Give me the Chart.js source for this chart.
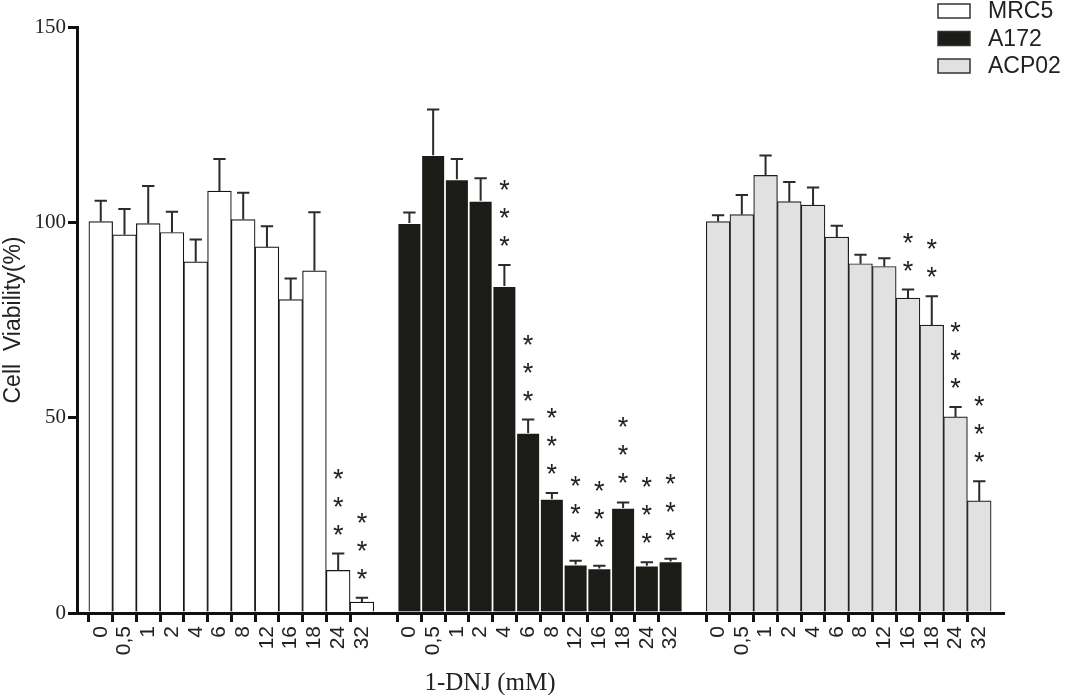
<!DOCTYPE html>
<html>
<head>
<meta charset="utf-8">
<script src="https://cdn.jsdelivr.net/npm/chart.js@4.4.1/dist/chart.umd.min.js"></script>
<style>
  html, body { margin: 0; padding: 0; background: #fff; }
  #wrap { width: 1065px; height: 695px; position: relative; }
</style>
</head>
<body>
<div id="wrap"><canvas id="viability"></canvas></div>
<script>
// concentrations of 1-DNJ (mM), same for each cell line
var doses = ['0', '0,5', '1', '2', '4', '6', '8', '12', '16', '18', '24', '32'];
var cellLines = ['MRC5', 'A172', 'ACP02'];

var mrc5 = [100.2, 96.8, 99.7, 97.4, 89.9, 108.0, 100.7, 93.7, 80.2, 87.6, 10.9, 2.8];
var mrc5Err = [5.3, 6.6, 9.6, 5.3, 5.7, 8.2, 6.9, 5.3, 5.4, 15.0, 4.3, 1.1];
var mrc5Stars = [0, 0, 0, 0, 0, 0, 0, 0, 0, 0, 3, 3];

var a172 = [99.8, 117.2, 111.0, 105.5, 83.7, 46.1, 29.2, 12.4, 11.4, 26.9, 12.1, 13.2];
var a172Err = [2.7, 11.7, 5.2, 5.8, 5.4, 3.4, 1.5, 1.0, 0.7, 1.4, 0.9, 0.7];
var a172Stars = [0, 0, 0, 0, 3, 3, 3, 3, 3, 3, 3, 3];

var acp02 = [100.2, 102.0, 112.0, 105.3, 104.4, 96.2, 89.4, 88.7, 80.6, 73.7, 50.2, 28.7];
var acp02Err = [1.6, 5.0, 5.1, 5.0, 4.5, 2.9, 2.3, 2.1, 2.2, 7.4, 2.5, 5.0];
var acp02Stars = [0, 0, 0, 0, 0, 0, 0, 0, 2, 2, 3, 3];

var yTicks = [0, 50, 100, 150];

// one empty slot before, between and after the three groups
var labels = [''].concat(doses, [''], doses, [''], doses, ['']);

function place(group, values) {
  var out = labels.map(function () { return null; });
  values.forEach(function (v, i) { out[1 + group * (doses.length + 1) + i] = v; });
  return out;
}

var errors = [place(0, mrc5Err), place(1, a172Err), place(2, acp02Err)];
var stars = [place(0, mrc5Stars), place(1, a172Stars), place(2, acp02Stars)];

var annotations = {
  id: 'annotations',
  afterDatasetsDraw: function (chart) {
    var c = chart.ctx;
    var y = chart.scales.y;
    chart.data.datasets.forEach(function (ds, d) {
      var meta = chart.getDatasetMeta(d);
      meta.data.forEach(function (bar, i) {
        var v = ds.data[i];
        if (v === null || v === undefined) return;
        var top = y.getPixelForValue(v + errors[d][i]);
        var cap = bar.width * 0.26;
        c.save();
        c.strokeStyle = '#2b2b2b';
        c.lineWidth = 2;
        c.beginPath();
        c.moveTo(bar.x, y.getPixelForValue(v));
        c.lineTo(bar.x, top);
        c.moveTo(bar.x - cap, top);
        c.lineTo(bar.x + cap, top);
        c.stroke();
        // significance asterisks
        c.fillStyle = '#222';
        c.font = '27px "Liberation Sans", Arial, sans-serif';
        c.textAlign = 'center';
        c.textBaseline = 'alphabetic';
        for (var k = 0; k < stars[d][i]; k++) {
          var cy = top - 25 - k * 28;
          c.fillText('*', bar.x, cy + 15);
        }
        c.restore();
      });
    });

    // x axis title
    var area = chart.chartArea;
    c.save();
    c.fillStyle = '#222';
    c.font = '25px "Liberation Serif", "Times New Roman", serif';
    c.textAlign = 'center';
    c.textBaseline = 'middle';
    c.fillText('1-DNJ (mM)', area.left + (area.right - area.left) * 0.446, 683);
    c.restore();

    // legend, top right
    c.save();
    chart.data.datasets.forEach(function (ds, d) {
      var by = 4 + d * 27.5;
      c.fillStyle = ds.backgroundColor;
      c.fillRect(938, by, 32, 14);
      c.strokeStyle = '#333';
      c.lineWidth = 1.5;
      c.strokeRect(938, by, 32, 14);
      c.fillStyle = '#222';
      c.font = '23px "Liberation Sans", Arial, sans-serif';
      c.textAlign = 'left';
      c.textBaseline = 'middle';
      c.fillText(ds.label, 988, by + 8);
    });
    c.restore();
  }
};

var ctx = document.getElementById('viability');

new Chart(ctx, {
  type: 'bar',
  data: {
    labels: labels,
    datasets: [{
      label: cellLines[0],
      data: place(0, mrc5),
      backgroundColor: '#ffffff',
      borderColor: '#151515',
      borderWidth: 1.2
    }, {
      label: cellLines[1],
      data: place(1, a172),
      backgroundColor: '#1b1b18',
      borderColor: '#ffffff',
      borderWidth: 1.2
    }, {
      label: cellLines[2],
      data: place(2, acp02),
      backgroundColor: '#e1e1e1',
      borderColor: '#1e1e1e',
      borderWidth: 1.2
    }]
  },
  options: {
    responsive: true,
    maintainAspectRatio: false,
    animation: false,
    layout: { padding: { top: 27, right: 62, left: 0, bottom: 0 } },
    datasets: {
      bar: { grouped: false, barPercentage: 1, categoryPercentage: 1, borderSkipped: 'start' }
    },
    plugins: {
      legend: { display: false },
      tooltip: { enabled: false }
    },
    scales: {
      x: {
        offset: false,
        z: 1,
        border: { display: true, width: 3, color: '#111' },
        grid: {
          drawOnChartArea: false,
          tickLength: 9,
          lineWidth: 3,
          color: function (c) { return labels[c.index] ? '#111' : 'rgba(0,0,0,0)'; }
        },
        ticks: {
          autoSkip: false,
          maxRotation: 90,
          minRotation: 90,
          padding: 4,
          color: '#222',
          font: { family: '"Liberation Sans", Arial, sans-serif', size: 21 }
        },
        afterFit: function (scale) { scale.height = 82; }
      },
      y: {
        min: 0,
        max: 150,
        z: 1,
        afterBuildTicks: function (scale) {
          scale.ticks = yTicks.map(function (v) { return { value: v }; });
        },
        border: { display: true, width: 3, color: '#111' },
        grid: {
          drawOnChartArea: false,
          tickLength: 9,
          lineWidth: 3,
          color: '#111'
        },
        ticks: {
          padding: 2,
          color: '#222',
          font: { family: '"Liberation Serif", "Times New Roman", serif', size: 21 }
        },
        title: {
          display: true,
          text: 'Cell  Viability(%)',
          color: '#222',
          padding: 0,
          font: { family: '"Liberation Sans", Arial, sans-serif', size: 23 }
        },
        afterFit: function (scale) { scale.width = 77; }
      }
    }
  },
  plugins: [annotations]
});
</script>
</body>
</html>
